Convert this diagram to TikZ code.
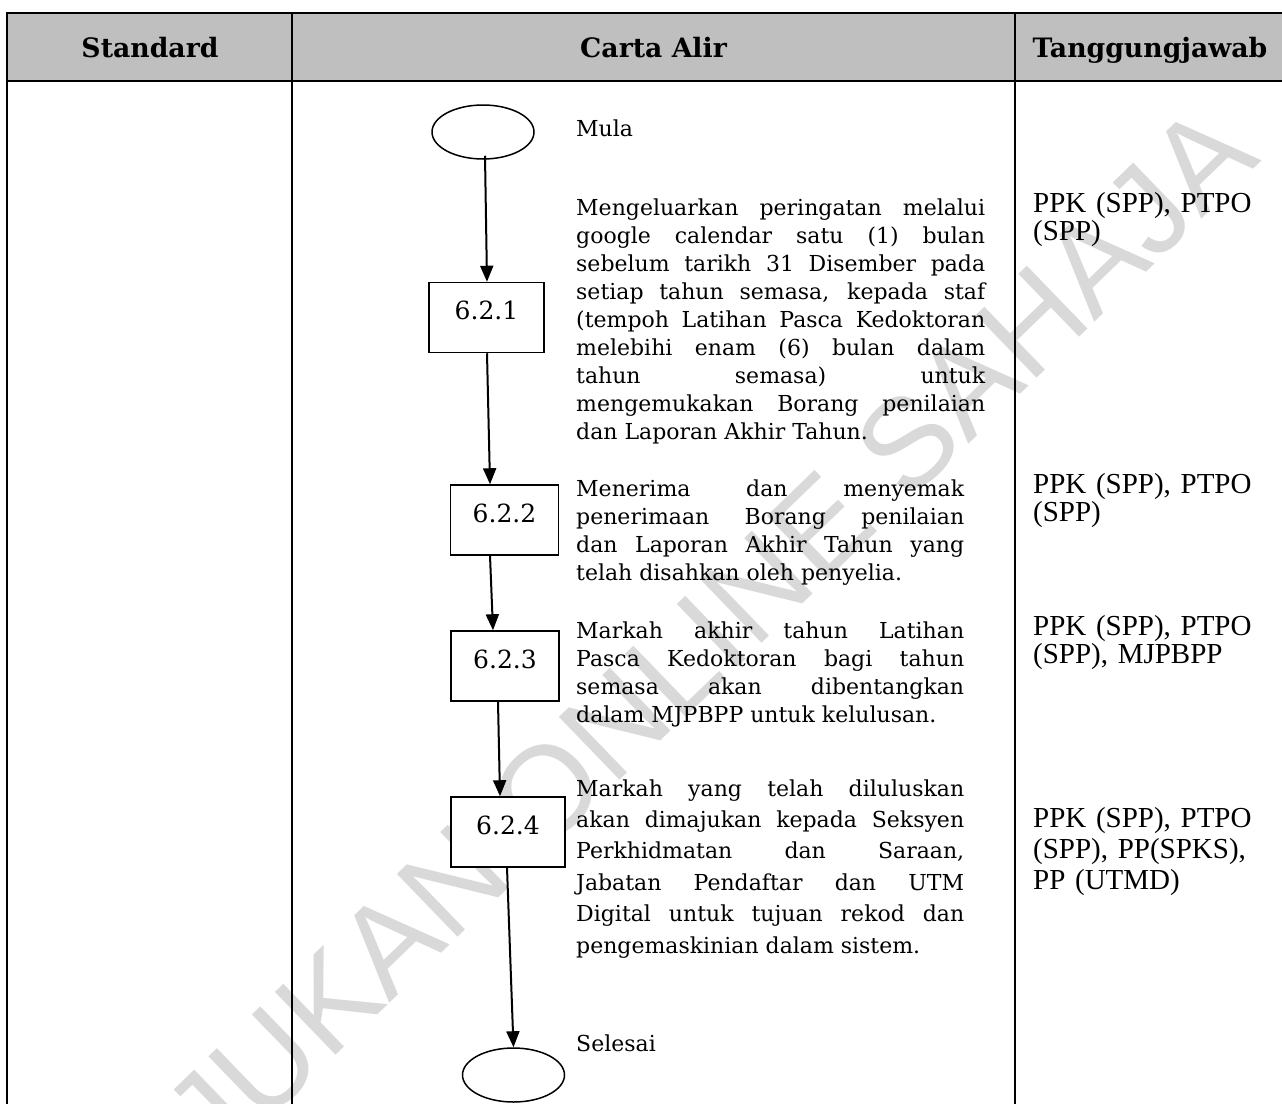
\documentclass[tikz,border=0pt]{standalone}
\usepackage{fontspec}
\setmainfont{DejaVu Serif}
\newfontfamily\respfont{Liberation Serif}
\newfontfamily\markfont{Liberation Sans}
\usetikzlibrary{arrows.meta, shapes}
\tolerance=10000
\hbadness=10000
\hyphenpenalty=10000
\exhyphenpenalty=10000

\begin{document}
\begin{tikzpicture}[x=1pt, y=-1pt]
\useasboundingbox (0,0) rectangle (1282,1103);

% watermark
\node (wm) at (643,697) [rotate=44,text=black!15,inner sep=0pt,text depth=0pt,
    font=\markfont\fontsize{127}{127}\selectfont] {RUJUKAN ONLINE SAHAJA};

% table
\begin{scope}[line width=2pt]
    \fill[black!25] (7,13) rectangle (1295,81);
    \draw (1295,13) -- (7,13) -- (7,1110);
    \draw (7,81) -- (1295,81);
    \draw (292,13) -- (292,1110);
    \draw (1015,13) -- (1015,1110);
\end{scope}

\begin{scope}[
    every node/.style={anchor=base,inner sep=0pt,
        font=\bfseries\fontsize{26.7}{30}\selectfont}]
    \node (standard) at (150,57.5) {Standard};
    \node (carta) at (653.5,57.5) {Carta Alir};
    \node (tanggung) at (1150,57.5) {Tanggungjawab};
\end{scope}

% flow chart
\begin{scope}[
    terminal/.style={ellipse,draw=black,line width=1.5pt,fill=white,
        minimum width=102pt,minimum height=54pt},
    stepbox/.style={rectangle,draw=black,line width=1.5pt,fill=white,
        minimum width=108pt,minimum height=70pt,text height=18pt,text depth=14pt,
        font=\fontsize{25}{30}\selectfont}]
    \node (mula) at (483,132) [terminal] {};

    \node (b621) at (486.5,317.5) [stepbox,minimum width=115pt] {6.2.1};
    \node (b622) at (504.5,520) [stepbox] {6.2.2};
    \node (b623) at (505,666) [stepbox] {6.2.3};
    \node (b624) at (508,832) [stepbox,minimum width=114pt] {6.2.4};

    \node (selesai) at (513.5,1075) [terminal] {};
\end{scope}

\begin{scope}[>={Triangle[length=16pt,width=13pt]},
              every edge/.style={draw=black,line width=2pt}]
    \path [->] ([xshift=2pt,yshift=4pt]mula.south) edge ([xshift=0.5pt]b621.north);
    \path [->] ([xshift=0.5pt]b621.south) edge ([xshift=-14.5pt]b622.north);
    \path [->] ([xshift=-14.5pt]b622.south) edge ([xshift=-12pt]b623.north);
    \path [->] ([xshift=-7pt]b623.south) edge ([xshift=-8pt]b624.north);
    \path [->] ([xshift=-1pt]b624.south) edge (selesai.north);
\end{scope}

% step texts
\begin{scope}[
    every node/.style={anchor=base west,inner sep=0pt,align=justify,
        text width=388pt,font=\fontsize{22}{28}\selectfont}]
    \node (tmula) at (576,136) {Mula};

    \node (t621) at (576,215) [text width=409pt] {Mengeluarkan peringatan melalui\linebreak
        google calendar satu (1) bulan\linebreak
        sebelum tarikh 31 Disember pada\linebreak
        setiap tahun semasa, kepada staf\linebreak
        (tempoh Latihan Pasca Kedoktoran\linebreak
        melebihi enam (6) bulan dalam\linebreak
        tahun semasa) untuk\linebreak
        mengemukakan Borang penilaian\linebreak
        dan Laporan Akhir Tahun.};

    \node (t622) at (576,496) {Menerima dan menyemak\linebreak
        penerimaan Borang penilaian\linebreak
        dan Laporan Akhir Tahun yang\linebreak
        telah disahkan oleh penyelia.};

    \node (t623) at (576,638) {Markah akhir tahun Latihan\linebreak
        Pasca Kedoktoran bagi tahun\linebreak
        semasa akan dibentangkan\linebreak
        dalam MJPBPP untuk kelulusan.};

    \node (t624) at (576,796) [font=\fontsize{22}{31.4}\selectfont] {Markah yang telah diluluskan\linebreak
        akan dimajukan kepada Seksyen\linebreak
        Perkhidmatan dan Saraan,\linebreak
        Jabatan Pendaftar dan UTM\linebreak
        Digital untuk tujuan rekod dan\linebreak
        pengemaskinian dalam sistem.};

    \node (tselesai) at (576,1051) {Selesai};
\end{scope}

% tanggungjawab
\begin{scope}[
    every node/.style={anchor=base west,inner sep=0pt,align=left,
        text width=245pt,font=\respfont\fontsize{29}{28.5}\selectfont}]
    \node (r621) at (1033,212) {PPK (SPP), PTPO\\(SPP)};
    \node (r622) at (1033,493) {PPK (SPP), PTPO\\(SPP)};
    \node (r623) at (1033,635) {PPK (SPP), PTPO\\(SPP), MJPBPP};
    \node (r624) at (1033,827) [font=\respfont\fontsize{29}{31.4}\selectfont] {PPK (SPP), PTPO\\(SPP), PP(SPKS),\\PP (UTMD)};
\end{scope}
\end{tikzpicture}
\end{document}
